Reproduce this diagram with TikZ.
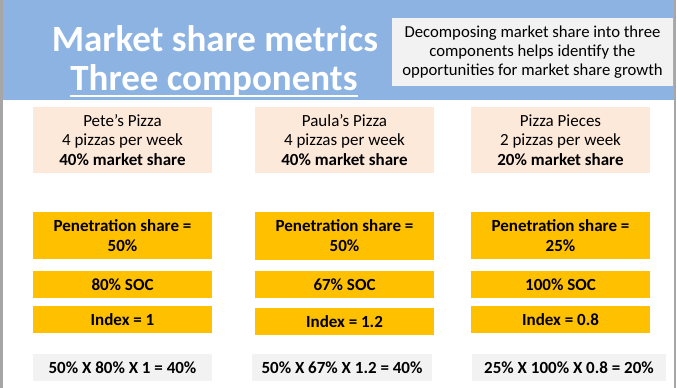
\documentclass[tikz,border=0pt]{standalone}
\usepackage{fontspec}
\setmainfont{Carlito}
\usetikzlibrary{positioning}
\definecolor{headblue}{HTML}{8DB3E2}
\definecolor{shoppink}{HTML}{FDE9D9}
\definecolor{metricgold}{HTML}{FFC000}
\definecolor{notegray}{HTML}{F2F2F2}
\definecolor{edgegray}{HTML}{A6A6A6}

\begin{document}
\begin{tikzpicture}[ x=1pt , y=-1pt , inner sep=0pt , outer sep=0pt ,
  shop/.style={ fill=shoppink , minimum width=179pt , minimum height=66pt , align=center , font=\fontsize{17}{19.5}\selectfont },
  metric/.style={ fill=metricgold , minimum width=179pt , minimum height=27pt , align=center , font=\fontsize{17}{20}\selectfont\bfseries },
  result/.style={ fill=notegray , minimum height=27pt , font=\fontsize{17}{20}\selectfont\bfseries },
  title/.style={ text=white , anchor=base , font=\fontsize{37}{37}\selectfont\bfseries } ]
\useasboundingbox (0,0) rectangle (677,388);
\fill [headblue] (0,0) rectangle (674,100);
\fill [edgegray] (0,0) rectangle (3,388);
\fill [edgegray] (674,0) rectangle (676,388);

% header
\node [ title ] (title_1) at (215,51) {Market share metrics};
\node [ title ] (title_2) at (214,90) {Three components};
\draw [white, line width=2pt] ([yshift=0.3pt]title_2.south west) -- ([yshift=0.3pt]title_2.south east);
\node [ fill=notegray , minimum width=281pt , minimum height=68pt , align=center , font=\fontsize{16.7}{19}\selectfont ] (note) at (532.5,52)
  {Decomposing market share into three\\components helps identify the\\opportunities for market share growth};

% Pete
\node [ shop ] (shop_1) at (122.5,140) {Pete’s Pizza\\4 pizzas per week\\\textbf{40\% market share}};
\node [ metric , minimum height=47pt ] (pen_1) [ below = 39pt of shop_1 ] {Penetration share =\\50\%};
\node [ metric ] (soc_1) [ below = 12pt of pen_1 ] {80\% SOC};
\node [ metric ] (idx_1) [ below = 8pt of soc_1 ] {Index = 1};
\node [ result , minimum width=179pt ] (calc_1) [ below = 21pt of idx_1 ] {50\% X 80\% X 1 = 40\%};

% Paula
\node [ shop ] (shop_2) at (344.5,140) {Paula’s Pizza\\4 pizzas per week\\\textbf{40\% market share}};
\node [ metric , minimum height=48pt ] (pen_2) [ below = 39pt of shop_2 ] {Penetration share =\\50\%};
\node [ metric ] (soc_2) [ below = 11pt of pen_2 ] {67\% SOC};
\node [ metric ] (idx_2) [ below = 10pt of soc_2 ] {Index = 1.2};
\node [ result , minimum width=180pt ] (calc_2) [ below = 19pt of idx_2 , xshift=-2.5pt ] {50\% X 67\% X 1.2 = 40\%};

% Pizza Pieces
\node [ shop ] (shop_3) at (560.5,140) {Pizza Pieces\\2 pizzas per week\\\textbf{20\% market share}};
\node [ metric , minimum height=47pt ] (pen_3) [ below = 39pt of shop_3 ] {Penetration share =\\25\%};
\node [ metric ] (soc_3) [ below = 12pt of pen_3 ] {100\% SOC};
\node [ metric ] (idx_3) [ below = 8pt of soc_3 ] {Index = 0.8};
\node [ result , minimum width=194pt ] (calc_3) [ below = 21pt of idx_3 , xshift=8.5pt ] {25\% X 100\% X 0.8 = 20\%};
\end{tikzpicture}
\end{document}
